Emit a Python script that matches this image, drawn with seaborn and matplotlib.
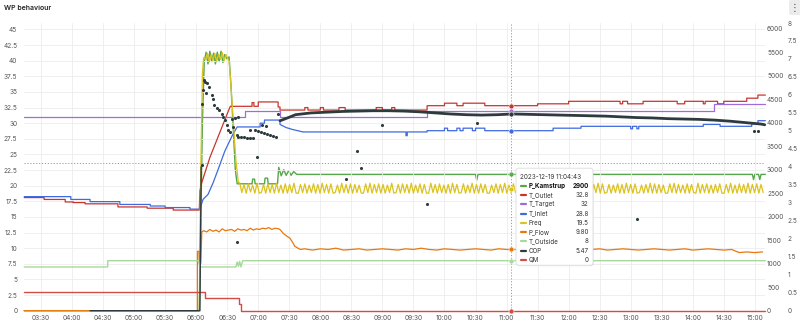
import numpy as np
import pandas as pd
import matplotlib
matplotlib.use("Agg")
import matplotlib.pyplot as plt
from matplotlib.patches import FancyBboxPatch
from matplotlib.lines import Line2D
from matplotlib.transforms import IdentityTransform
import seaborn as sns

sns.set_theme(style="white")
plt.rcParams['font.family'] = ['Inter', 'DejaVu Sans']

# ---------------- data (time = hour of day) ----------------
time_ticks = [3.5, 4.0, 4.5, 5.0, 5.5, 6.0, 6.5, 7.0, 7.5, 8.0, 8.5, 9.0, 9.5, 10.0,
              10.5, 11.0, 11.5, 12.0, 12.5, 13.0, 13.5, 14.0, 14.5, 15.0]
time_labels = ["03:30", "04:00", "04:30", "05:00", "05:30", "06:00", "06:30", "07:00",
               "07:30", "08:00", "08:30", "09:00", "09:30", "10:00", "10:30", "11:00",
               "11:30", "12:00", "12:30", "13:00", "13:30", "14:00", "14:30", "15:00"]

# T_Outlet (deg C)
t_outlet_t = [3.23, 3.55, 3.55, 3.89, 3.89, 4.02, 4.02, 4.21, 4.21, 4.74, 4.74, 5.21, 5.21,
              5.63, 5.63, 6.05, 6.06, 6.09, 6.22, 6.38, 6.50, 6.55, 6.90, 6.90, 6.93, 6.93,
              7.00, 7.00, 7.32, 7.32, 7.35, 7.35, 7.75, 7.75, 7.80, 7.80, 8.00, 8.00, 8.05,
              8.05, 8.30, 8.30, 8.40, 8.40, 8.90, 8.90, 9.00, 9.00, 9.15, 9.15, 9.20, 9.20,
              9.72, 9.72, 10.00, 10.00, 10.20, 10.20, 10.30, 10.30, 10.65, 10.65, 11.50,
              11.50, 12.00, 12.00, 12.83, 12.83, 12.87, 12.87, 12.95, 12.95, 13.20, 13.20,
              13.75, 13.75, 13.87, 13.87, 14.17, 14.17, 14.20, 14.20, 14.40, 14.40, 14.50,
              14.50, 14.87, 14.87, 15.05, 15.05, 15.17]
t_outlet_v = [18.1, 18.1, 17.8, 17.8, 17.4, 17.4, 17.3, 17.3, 17.1, 17.1, 16.6, 16.6, 16.4,
              16.4, 16.1, 16.1, 19.2, 20.5, 24.5, 28.5, 31.5, 32.7, 32.7, 33.3, 33.3, 32.7,
              32.7, 33.4, 33.4, 32.6, 32.6, 32.1, 32.1, 32.5, 32.5, 32.1, 32.1, 32.5, 32.5,
              32.1, 32.1, 32.5, 32.5, 32.1, 32.1, 32.5, 32.5, 32.1, 32.1, 32.5, 32.5, 32.1,
              32.1, 32.8, 32.8, 33.2, 33.2, 32.8, 32.8, 33.2, 33.2, 32.8, 32.8,
              33.1, 33.1, 33.5, 33.5, 33.1, 33.1, 33.5, 33.5, 33.1, 33.1, 33.5,
              33.5, 33.1, 33.1, 33.5, 33.5, 33.1, 33.1, 33.5, 33.5, 33.1, 33.1,
              33.5, 33.5, 34.0, 34.0, 34.5, 34.5]

# T_Target (deg C)
t_target_t = [3.23, 6.787, 6.787, 7.35, 7.35, 9.72, 9.72, 14.343, 14.343, 15.17]
t_target_v = [31.0, 31.0, 32.0, 32.0, 31.0, 31.0, 32.0, 32.0, 33.0, 33.0]

# T_Inlet (deg C)
t_inlet_t = [3.23, 3.98, 3.98, 4.29, 4.29, 4.77, 4.77, 5.26, 5.26, 5.50, 5.50, 5.90, 5.90,
             6.06, 6.11, 6.19, 6.27, 6.35, 6.46, 6.58, 6.66, 7.03, 7.03, 7.10, 7.10, 7.35,
             7.35, 7.45, 7.55, 7.72, 9.38, 9.38, 9.40, 9.40, 9.72, 9.72, 10.00, 10.00,
             10.05, 10.05, 10.20, 10.20, 10.25, 10.25, 10.30, 10.30, 10.45, 10.45, 10.50,
             10.50, 10.65, 10.65, 11.75, 11.75, 12.20, 12.20, 13.00, 13.00, 13.03, 13.03,
             13.10, 13.10, 13.13, 13.13, 14.17, 14.17, 14.44, 14.44, 14.95, 14.95, 15.05,
             15.05, 15.17]
t_inlet_v = [18.25, 18.25, 17.8, 17.8, 17.45, 17.45, 17.0, 17.0, 16.75, 16.75, 16.5, 16.5,
             16.25, 16.25, 17.8, 18.6, 20.4, 22.5, 25.5, 28.0, 29.4, 29.4, 30.0, 30.0, 30.5,
             30.5, 29.8, 29.3, 29.0, 28.6, 28.6, 28.0, 28.0, 28.6, 28.6, 28.8, 28.8, 29.2,
             29.2, 28.8, 28.8, 29.2, 29.2, 28.8, 28.8, 29.2, 29.2, 28.8, 28.8,
             29.2, 29.2, 28.8, 28.8, 29.2, 29.2, 29.5, 29.5, 29.1, 29.1, 29.5,
             29.5, 29.1, 29.1, 29.5, 29.5, 29.8, 29.8, 29.5, 29.5, 29.9, 29.9,
             30.4, 30.4]

# Freq (Hz, left axis): start-up part
freq_start_t = [3.23, 6.05, 6.07, 6.10, 6.12, 6.15, 6.18, 6.21, 6.24, 6.27, 6.30, 6.33, 6.36,
                6.39, 6.42, 6.45, 6.48, 6.50, 6.53, 6.56, 6.60, 6.64, 6.68]
freq_start_v = [0.0, 0.0, 20.0, 38.0, 40.5, 40.2, 41.2, 39.8, 41.0, 40.0, 41.2, 39.9, 41.0,
                40.2, 41.3, 40.0, 41.0, 40.5, 40.0, 36.0, 30.0, 24.0, 20.5]
# Freq oscillation, sampled every 2.1 min from 06:42
freq_osc_start = 6.70
freq_osc_step = 0.035
freq_osc_v = [
    20.5, 18.9, 20.2, 18.8, 20.3, 19.0, 20.1, 18.8, 20.4, 18.8, 18.9, 20.2, 18.8, 20.3, 18.9, 20.2, 18.8, 20.4, 18.9, 20.1,
    18.8, 20.3, 18.8, 20.2, 18.9, 20.4, 18.8, 18.8, 20.2, 18.9, 20.3, 18.8, 20.1, 18.9, 20.3, 18.8, 20.2, 18.8, 20.4, 18.9,
    20.2, 18.8, 20.3, 18.8, 18.9, 20.1, 18.8, 20.4, 18.9, 20.2, 18.8, 20.3, 18.8, 20.2, 18.9, 20.1, 18.8, 18.8, 20.3, 18.9,
    20.4, 18.8, 20.2, 18.9, 20.3, 18.8, 20.2, 18.8, 20.1, 18.9, 20.4, 18.8, 18.9, 20.2, 18.8, 20.3, 18.9, 20.2, 18.8, 20.4,
    18.8, 20.1, 18.9, 20.3, 18.8, 20.2, 18.8, 18.8, 20.4, 18.9, 20.2, 18.8, 20.3, 18.9, 20.1, 18.8, 20.2, 18.8, 20.4, 18.9,
    20.2, 18.8, 18.9, 20.3, 18.8, 20.1, 18.9, 20.4, 18.8, 20.2, 18.8, 20.3, 18.9, 20.2, 18.8, 18.8, 20.1, 18.9, 20.3, 18.8,
    20.2, 18.9, 20.4, 18.8, 20.1, 18.8, 20.3, 18.9, 18.8, 20.2, 18.8, 20.4, 18.9, 20.2, 18.8, 20.3, 18.8, 20.1, 18.9, 20.2,
    18.8, 18.8, 20.3, 18.9, 20.2, 18.8, 20.4, 18.8, 20.1, 18.9, 20.3, 18.8, 20.2, 18.9, 18.8, 20.4, 18.8, 20.2, 18.9, 20.3,
    18.8, 20.1, 18.8, 20.2, 18.9, 20.4, 18.8, 20.3, 18.8, 18.9, 20.2, 18.8, 20.1, 18.9, 20.3, 18.8, 20.2, 18.8, 20.4, 18.9,
    20.2, 18.8, 20.3, 18.8, 18.9, 20.1, 18.8, 20.2, 18.9, 20.4, 18.8, 20.3, 18.8, 20.2, 18.9, 20.1, 18.8, 18.8, 20.3, 18.9,
    20.4, 18.8, 20.2, 18.9, 20.1, 18.8, 20.3, 18.8, 20.2, 18.9, 18.8, 20.4, 18.8, 20.2, 18.9, 20.3, 18.8, 20.1, 18.8, 20.2,
    18.9, 20.3, 18.8, 18.8, 20.2, 18.9, 20.4, 18.8, 20.1, 18.8, 20.3, 18.9, 20.2, 18.8, 20.4, 18.8, 20.2, 18.9, 20.3, 18.8,
    20.2, 18.9]

# P_Flow (left axis)
p_flow_t = [3.23, 6.02, 6.02, 6.045, 6.05, 6.075, 6.09, 6.12, 6.17, 6.22, 6.27, 6.32, 6.37,
            6.42, 6.47, 6.52, 6.57, 6.62, 6.67, 6.72, 6.77, 6.82, 6.87, 6.92, 6.97, 7.02,
            7.07, 7.12, 7.17, 7.22, 7.27, 7.33, 7.36, 7.40, 7.45, 7.51, 7.55, 7.59, 7.64, 7.68]
p_flow_v = [0.0, 0.0, 9.5, 9.5, 7.6, 7.6, 12.6, 12.8, 12.6, 13.0, 12.7, 12.9, 12.6,
            13.1, 12.8, 12.9, 13.0, 12.7, 13.1, 12.9, 13.0, 12.8, 13.2, 12.9, 13.1, 13.0,
            13.2, 13.1, 13.3, 13.0, 13.2, 13.1, 12.9, 12.4, 12.0, 11.6, 11.0, 10.3, 10.0, 9.8]
p_flow_late_start = 7.75
p_flow_late_step = 0.125
p_flow_late_v = [
    9.9, 9.7, 9.9, 9.8, 10.0, 9.7, 9.8, 9.9, 9.7, 9.8,
    9.9, 9.8, 9.7, 9.9, 9.8, 10.0, 9.8, 9.7, 9.9, 9.8,
    9.7, 9.8, 9.9, 9.8, 9.7, 9.9, 9.8, 9.8, 9.7, 9.9,
    9.8, 9.7, 9.9, 9.8, 10.0, 9.8, 9.7, 9.8, 9.9, 9.7,
    9.8, 9.9, 9.8, 9.7, 9.8, 9.9, 9.8, 9.7, 9.8, 9.9,
    9.7, 9.8, 9.9, 9.8, 9.7, 9.8, 9.3, 9.4, 9.3, 9.4]

# T_Outside (left axis)
t_outside_t = [3.23, 4.575, 4.575, 6.04, 6.06, 6.64, 6.66, 6.68, 6.70, 6.72, 6.75, 15.17]
t_outside_v = [7.0, 7.0, 8.0, 8.0, 7.0, 7.0, 7.8, 7.1, 7.9, 7.0, 8.0, 8.0]

# QM (left axis)
qm_t = [3.23, 6.14, 6.14, 6.695, 6.695, 6.73, 6.73, 15.17]
qm_v = [3.0, 3.0, 2.0, 2.0, 1.0, 1.0, 0.0, 0.0]

# P_Kamstrup (W, right axis)
p_kam_t = [3.23, 6.05, 6.07, 6.10, 6.13, 6.16, 6.19, 6.22, 6.25, 6.28, 6.31, 6.34, 6.37,
           6.40, 6.43, 6.46, 6.50, 6.53, 6.56, 6.60, 6.63, 6.66, 6.90, 6.91, 6.94, 6.95,
           7.10, 7.11, 7.15, 7.16, 7.31, 7.33, 7.37, 7.41, 7.45, 7.49, 7.53, 7.57, 7.62,
           10.50, 10.52, 10.54, 14.96, 14.98, 15.00, 15.06, 15.08, 15.10, 15.17]
p_kam_v = [0, 0, 1500, 4000, 5300, 5500, 5250, 5520, 5300, 5480, 5250, 5500, 5300,
           5520, 5280, 5450, 5350, 5400, 4800, 3800, 3000, 2700, 2700, 2800, 2800, 2700,
           2700, 2820, 2820, 2700, 2700, 3050, 2870, 3000, 2880, 2980, 2880, 2960, 2900,
           2900, 2780, 2900, 2900, 2790, 2900, 2900, 2790, 2900, 2900]

# COP (right axis 2)
cop_zero_t = [4.29, 6.06, 6.08]
cop_zero_v = [0.0, 0.0, 4.0]
cop_dots_t = [6.089, 6.115, 6.126, 6.15, 6.174, 6.211, 6.25, 6.276, 6.292, 6.33, 6.368,
              6.411, 6.437, 6.464, 6.492, 6.518, 6.545, 6.572, 6.598, 6.625, 6.653, 6.679,
              6.679, 6.722, 6.77, 6.819, 6.867, 6.867, 6.916, 6.948, 6.975, 6.996, 7.044,
              7.056, 7.093, 7.125, 7.141, 7.189, 7.238, 7.286, 7.318, 6.658, 6.10, 6.16,
              8.409, 8.586, 8.655, 8.989, 9.724, 10.52, 13.10, 14.99, 15.05]
cop_dots_v = [4.04, 6.13, 6.41, 6.35, 6.33, 6.22, 5.99, 5.90, 5.71, 5.65, 5.58,
              5.48, 5.39, 5.30, 5.16, 5.02, 4.97, 5.34, 5.11, 5.37, 4.88, 5.39,
              4.83, 4.83, 4.82, 4.81, 4.81, 5.02, 4.81, 5.02, 4.26, 4.99, 4.96,
              5.16, 4.94, 5.13, 4.91, 4.88, 4.85, 4.83, 5.48, 1.92, 5.76, 6.05,
              3.65, 4.44, 3.96, 5.16, 2.96, 5.22, 2.55, 5.00, 5.00]
cop_line_t = [7.35, 7.50, 7.60, 7.85, 8.10, 8.35, 8.60, 8.85, 9.10, 9.35, 9.60, 9.85, 10.10,
              10.35, 10.60, 10.85, 11.10, 11.35, 11.60, 11.85, 12.10, 12.35, 12.60, 12.85,
              13.10, 13.35, 13.60, 13.85, 14.10, 14.35, 14.60, 14.85, 15.10, 15.16]
cop_line_v = [5.28, 5.38, 5.45, 5.50, 5.52, 5.54, 5.55, 5.56, 5.56, 5.55, 5.53, 5.50, 5.47,
              5.45, 5.44, 5.45, 5.47, 5.46, 5.45, 5.44, 5.43, 5.42, 5.41, 5.39,
              5.37, 5.36, 5.34, 5.33, 5.32, 5.30, 5.27, 5.23, 5.19, 5.17]

# tooltip
tip_time = 11.072
tip_header = "2023-12-19 11:04:43"
tip_names = ["P_Kamstrup", "T_Outlet", "T_Target", "T_Inlet", "Freq", "P_Flow",
             "T_Outside", "COP", "QM"]
tip_values = ["2900", "32.8", "32", "28.8", "19.5", "9.80", "8", "5.47", "0"]
tip_nums = [2900, 32.8, 32, 28.8, 19.5, 9.80, 8, 5.47, 0]
cross_y = 23.6

# ---------------- styles ----------------
C = {"P_Kamstrup": "#56A64B", "T_Outlet": "#C8352D", "T_Target": "#9F6BE0",
     "T_Inlet": "#3F6AE0", "Freq": "#DCC21D", "P_Flow": "#E8780E",
     "T_Outside": "#A8D89C", "COP": "#2E3B3E", "QM": "#D24B45"}

W, H = 800, 325
fig = plt.figure(figsize=(W / 100, H / 100), dpi=100)
fig.patch.set_facecolor("white")
ax = fig.add_axes([24 / W, 1 - 310.7 / H, (765 - 24) / W, (310.7 - 23) / H])
ax_w = ax.twinx()
ax_c = ax.twinx()
ax_w.set_zorder(1)
ax.set_zorder(2)
ax_c.set_zorder(3)
ax.patch.set_visible(False)
ax_w.patch.set_visible(False)
ax_c.patch.set_visible(False)


def draw(a, t, v, color, lw=0.9, z=2):
    df = pd.DataFrame({"t": t, "v": v})
    sns.lineplot(data=df, x="t", y="v", ax=a, color=color, linewidth=lw,
                 estimator=None, sort=False, legend=False, zorder=z, clip_on=False)


draw(ax_w, p_kam_t, p_kam_v, C["P_Kamstrup"], 1.0)

draw(ax, t_outlet_t, t_outlet_v, C["T_Outlet"])
draw(ax, t_target_t, t_target_v, C["T_Target"])
draw(ax, t_inlet_t, t_inlet_v, C["T_Inlet"])
freq_t = list(freq_start_t) + list(freq_osc_start + freq_osc_step * np.arange(len(freq_osc_v)))
freq_v = list(freq_start_v) + list(freq_osc_v)
draw(ax, freq_t, freq_v, C["Freq"], 0.9)
pf_t = list(p_flow_t) + list(p_flow_late_start + p_flow_late_step * np.arange(len(p_flow_late_v)))
pf_v = list(p_flow_v) + list(p_flow_late_v)
draw(ax, pf_t, pf_v, C["P_Flow"])
draw(ax, t_outside_t, t_outside_v, C["T_Outside"], 1.0)
draw(ax, qm_t, qm_v, C["QM"], 1.0)

draw(ax_c, cop_zero_t, cop_zero_v, C["COP"], 1.0)
draw(ax_c, cop_line_t, cop_line_v, C["COP"], 2.0)
sns.scatterplot(x=cop_dots_t, y=cop_dots_v, ax=ax_c, color=C["COP"], s=5, linewidth=0,
                zorder=3, legend=False)

# axes cosmetics
xmin, xmax = 3.226, 15.164
for a in (ax, ax_w, ax_c):
    a.set_xlim(xmin, xmax)
    a.set_xlabel("")
    a.set_ylabel("")
    for s in a.spines.values():
        s.set_visible(False)
ax.set_ylim(0, 46.03)
ax_w.set_ylim(0, 6121)
ax_c.set_ylim(0, 7.99)

tick_col = "#555555"
fs = 4.7
left_ticks = [2.5 * i for i in range(19)]
ax.set_yticks(left_ticks)
ax.set_yticklabels([f"{v:g}" for v in left_ticks])
ax.set_xticks(time_ticks)
ax.set_xticklabels(time_labels)
ax.tick_params(axis="y", length=0, pad=4.8, labelsize=fs, labelcolor=tick_col)
ax.tick_params(axis="x", length=0, pad=3.3, labelsize=fs, labelcolor=tick_col)
ax.grid(True, color="#ececec", linewidth=0.6)
ax.set_axisbelow(True)

w_ticks = [500 * i for i in range(13)]
ax_w.set_yticks(w_ticks)
ax_w.set_yticklabels([str(v) for v in w_ticks])
ax_w.tick_params(axis="y", length=0, pad=1.5, labelsize=fs, labelcolor=tick_col)
c_ticks = [0.5 * i for i in range(17)]
ax_c.set_yticks(c_ticks)
ax_c.set_yticklabels([f"{v:g}" for v in c_ticks])
ax_c.tick_params(axis="y", length=0, pad=16.5, labelsize=fs, labelcolor=tick_col)
ax_w.grid(False)
ax_c.grid(False)

# crosshair
ax.axvline(tip_time, color="#9a9a9a", lw=0.7, ls=(0, (1.2, 1.8)), zorder=1)
ax.axhline(cross_y, color="#9a9a9a", lw=0.7, ls=(0, (1.2, 1.8)), zorder=1)

# hover markers
tip_axes = [ax_w, ax, ax, ax, ax, ax, ax, ax_c, ax]
for name, a, v in zip(tip_names, tip_axes, tip_nums):
    a.plot([tip_time], [v], marker="o", ms=3.6, color=C[name], mec="white", mew=0.4,
           zorder=6, clip_on=False)

# title and menu icon
fig.text(4 / W, 1 - 8.5 / H, "WP behaviour", fontsize=5.0, fontweight="semibold",
         color="#222222", va="center", ha="left")
fig.patches.append(FancyBboxPatch((789, H - 15), 12, 15, boxstyle="round,pad=0,rounding_size=2",
                                  transform=IdentityTransform(), fc="#ececec", ec="none"))
fig.text(794.5, H - 7.5, "\u22ee", transform=IdentityTransform(), fontsize=7,
         color="#444444", ha="center", va="center", family=["DejaVu Sans"])

# tooltip
fig.canvas.draw()
px, py = ax.transData.transform((tip_time, cross_y))
bx, btop = px + 5, py - 5
bw, bh = 77, 97
fig.patches.append(FancyBboxPatch((bx + 0.8, btop - bh - 1.2), bw, bh,
                                  boxstyle="round,pad=0,rounding_size=2.5",
                                  transform=IdentityTransform(), fc="#000000", ec="none",
                                  alpha=0.06, zorder=19))
fig.patches.append(FancyBboxPatch((bx, btop - bh), bw, bh,
                                  boxstyle="round,pad=0,rounding_size=2.5",
                                  transform=IdentityTransform(), fc="white", ec="#dcdcdc",
                                  lw=0.6, zorder=20))
fig.text(bx + 4, btop - 8.4, tip_header, transform=IdentityTransform(), fontsize=4.6,
         color="#333333", va="center", ha="left", zorder=21)
for i, (name, val) in enumerate(zip(tip_names, tip_values)):
    yy = btop - 17.7 - 9.25 * i
    fig.lines.append(Line2D([bx + 4.7, bx + 9.5], [yy, yy], transform=IdentityTransform(),
                            color=C[name], lw=1.6, zorder=21))
    weight = "bold" if i == 0 else "normal"
    col = "#111111" if i == 0 else "#333333"
    fig.text(bx + 12.3, yy, name, transform=IdentityTransform(), fontsize=4.5,
             color=col, va="center", ha="left", fontweight=weight, zorder=21)
    fig.text(bx + 72.5, yy, val, transform=IdentityTransform(), fontsize=4.5,
             color=col, va="center", ha="right", fontweight=weight, zorder=21)

fig.savefig("out.png", dpi=100, facecolor="white")
